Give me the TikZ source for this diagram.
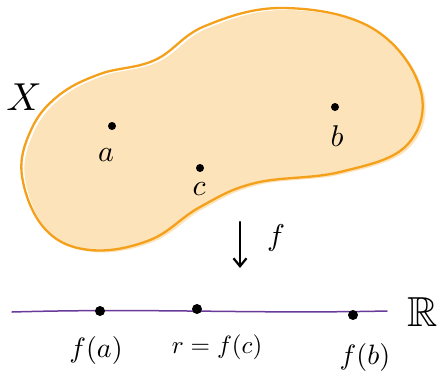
\documentclass[tikz,border=0pt]{standalone}
\usepackage{graphicx}
\usepackage{amssymb}
\usetikzlibrary{arrows.meta}
\definecolor{blobfill}{HTML}{FCE3BA}
\definecolor{blobline}{HTML}{F5A01A}
\definecolor{linepurple}{HTML}{6A3A9A}
\newcommand{\bigt}[2][3]{\scalebox{#1}{#2}}
\tikzset{
  lbl/.style={inner sep=0pt},
  pt/.style={circle, fill=black, inner sep=0pt, minimum size=#1},
  pt/.default=8pt
}
\begin{document}
\begin{tikzpicture}[x=1pt,y=-1pt, line cap=round, line join=round]
\useasboundingbox (0,0) rectangle (447,381);
\def\blobpath{plot[smooth cycle, tension=0.65] coordinates {
 (22,176) (31,130) (58,96) (100,74) (155,60) (205,26) (283,8) (372,28) (420,88) (407,145) (340,172) (255,183) (200,207) (150,240) (90,250) (45,229)}}
% blob fill (slightly offset)
\fill[blobfill, shift={(3,2)}] \blobpath;
\draw[blobline, line width=2.3pt] \blobpath;
% points in X
\node[pt] (a) at (112,126) {};
\node[pt] (b) at (335,107) {};
\node[pt] (c) at (200,168) {};
\node[lbl] (la) at (106,155) {\bigt{$a$}};
\node[lbl] (lb) at (337,136) {\bigt{$b$}};
\node[lbl] (lc) at (199,189) {\bigt{$c$}};
\node[lbl] (X) at (24,97) {\bigt[3.9]{$X$}};
% map arrow
\coordinate (ftop) at (240,222);
\coordinate (fbot) at (240,268);
\draw[line width=2.2pt, -{Straight Barb[length=8pt,width=13pt]}] (ftop) -- (fbot);
\node[lbl] (f) at (276,238) {\bigt{$f$}};
% real line
\coordinate (l0) at (12,312);
\coordinate (l1) at (387,311);
\draw[linepurple, line width=1.5pt] (l0) .. controls (150,308) and (250,314) .. (l1);
\node[pt=10pt] (fa) at (100,311) {};
\node[pt=10pt] (fc) at (197,309) {};
\node[pt=10pt] (fb) at (353,315) {};
\node[lbl] (lfa) at (96,350) {\bigt[2.8]{$f(a)$}};
\node[lbl] (lfc) at (217,347) {\bigt[2.5]{$r=f(c)$}};
\node[lbl] (lfb) at (365,357) {\bigt[2.8]{$f(b)$}};
\node[lbl] (R) at (423,312) {\bigt[4.2]{$\mathbb{R}$}};
\end{tikzpicture}
\end{document}
